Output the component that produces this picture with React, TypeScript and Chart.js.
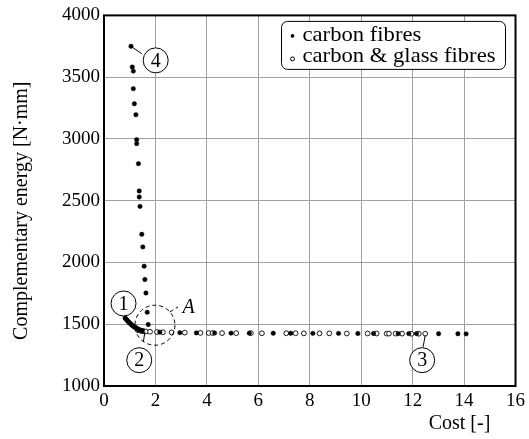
import React, { useEffect, useRef } from 'react';
import { Chart, registerables } from 'chart.js';
Chart.register(...registerables);

// ---------- data ----------
const carbonX = [
  1.05, 1.10, 1.14, 1.14, 1.18, 1.24, 1.27, 1.27, 1.34, 1.37, 1.37, 1.40, 1.47, 1.51, 1.56, 1.59, 1.63, 1.68, 1.72,
  0.82, 0.85, 0.88, 0.91, 0.95, 0.98, 1.01, 1.05, 1.08, 1.12, 1.16, 1.19, 1.23, 1.27, 1.31, 1.36, 1.42, 1.49,
  2.17, 2.95, 3.59, 4.30, 4.94, 5.65, 6.58, 7.26, 8.12, 9.12, 9.87, 10.48, 11.44, 11.85, 12.15, 13.01, 13.76, 14.08,
];
const carbonY = [
  3750, 3582, 3549, 3407, 3285, 3196, 2994, 2962, 2800, 2579, 2530, 2454, 2228, 2126, 1970, 1862, 1753, 1597, 1498,
  1550, 1543, 1536, 1528, 1521, 1514, 1507, 1500, 1494, 1488, 1482, 1477, 1472, 1467, 1462, 1457, 1452, 1447,
  1436, 1432, 1430, 1429, 1428, 1428, 1427, 1427, 1426, 1426, 1425, 1425, 1424, 1424, 1424, 1423, 1423, 1422,
];
const glassX = [
  1.32, 1.40, 1.48, 1.56, 1.63, 1.79, 2.06, 2.29, 2.63, 3.14, 3.75, 4.07, 4.22, 4.59, 5.14, 5.71, 6.14, 7.09, 7.45,
  7.77, 8.38, 8.76, 9.44, 10.25, 10.60, 10.99, 11.08, 11.34, 11.59, 11.95, 12.24, 12.49,
];
const glassY = [
  1452, 1448, 1445, 1443, 1441, 1439, 1437, 1435, 1434, 1432, 1430, 1429, 1429, 1428, 1428, 1428, 1427, 1427, 1427,
  1426, 1426, 1426, 1425, 1425, 1425, 1424, 1424, 1424, 1424, 1423, 1423, 1423,
];
const xTickValues = [0, 2, 4, 6, 8, 10, 12, 14, 16];
const yTickValues = [1000, 1500, 2000, 2500, 3000, 3500, 4000];
const seriesNames = ['carbon fibres', 'carbon & glass fibres'];
const xTitle = 'Cost [-]';
const yTitle = 'Complementary energy [N·mm]';

// annotation anchors (data coordinates)
const numberMarks = [
  { text: '1', cx: 0.76, cy: 1668, from: [0.80, 1568], to: [0.83, 1550] },
  { text: '2', cx: 1.37, cy: 1209, from: [1.53, 1357], to: [1.59, 1438] },
  { text: '3', cx: 12.37, cy: 1209, from: [12.41, 1317], to: [12.49, 1411] },
  { text: '4', cx: 2.01, cy: 3636, from: [1.47, 3690], to: [1.05, 3750] },
];
const regionMark = { text: 'A', cx: 1.98, cy: 1492, from: [2.56, 1600], to: [2.88, 1640], lx: 3.29, ly: 1634 };

const SERIF = '"Liberation Serif", "DejaVu Serif", serif';

const decor = {
  id: 'decor',
  afterDatasetsDraw(chart: any) {
    const { ctx, chartArea: a, scales } = chart;
    const xs = scales.x, ys = scales.y;
    const px = (v: number) => xs.getPixelForValue(v);
    const py = (v: number) => ys.getPixelForValue(v);
    ctx.save();
    // frame
    ctx.strokeStyle = '#000';
    ctx.lineWidth = 2;
    ctx.strokeRect(a.left, a.top, a.right - a.left, a.bottom - a.top);

    // numbered circles
    ctx.lineWidth = 1;
    ctx.font = `20px ${SERIF}`;
    ctx.textAlign = 'center';
    ctx.textBaseline = 'middle';
    numberMarks.forEach((m) => {
      ctx.beginPath();
      ctx.moveTo(px(m.from[0]), py(m.from[1]));
      ctx.lineTo(px(m.to[0]), py(m.to[1]));
      ctx.stroke();
      ctx.beginPath();
      ctx.fillStyle = '#fff';
      ctx.arc(px(m.cx), py(m.cy), 12.5, 0, Math.PI * 2);
      ctx.fill();
      ctx.stroke();
      ctx.fillStyle = '#000';
      ctx.fillText(m.text, px(m.cx), py(m.cy) + 1);
    });

    // dashed region
    ctx.setLineDash([4, 3]);
    ctx.beginPath();
    ctx.arc(px(regionMark.cx), py(regionMark.cy), 20, 0, Math.PI * 2);
    ctx.stroke();
    ctx.beginPath();
    ctx.moveTo(px(regionMark.from[0]), py(regionMark.from[1]));
    ctx.lineTo(px(regionMark.to[0]), py(regionMark.to[1]));
    ctx.stroke();
    ctx.setLineDash([]);
    ctx.font = `italic 20px ${SERIF}`;
    ctx.fillText(regionMark.text, px(regionMark.lx), py(regionMark.ly));

    // legend
    const bw = 224, bh = 48;
    const bx = a.right - 234, by = a.top + 6;
    ctx.beginPath();
    ctx.roundRect(bx, by, bw, bh, 6);
    ctx.fillStyle = '#fff';
    ctx.fill();
    ctx.strokeStyle = '#000';
    ctx.lineWidth = 1;
    ctx.stroke();
    ctx.font = `21px ${SERIF}`;
    ctx.textAlign = 'left';
    ctx.textBaseline = 'alphabetic';
    ctx.fillStyle = '#000';
    ctx.beginPath();
    ctx.arc(bx + 11, by + 14.5, 1.8, 0, Math.PI * 2);
    ctx.fill();
    const tx = bx + 21;
    const maxW = bw - 31;
    const w1 = ctx.measureText(seriesNames[1]).width;
    const sx = w1 > 0 ? Math.min(1.15, maxW / w1) : 1;
    ctx.save();
    ctx.translate(tx, 0);
    ctx.scale(sx, 1);
    ctx.fillText(seriesNames[0], 0, by + 20);
    ctx.fillText(seriesNames[1], 0, by + 41);
    ctx.restore();
    ctx.beginPath();
    ctx.arc(bx + 11, by + 37.5, 2, 0, Math.PI * 2);
    ctx.stroke();

    // axis titles
    ctx.font = `20px ${SERIF}`;
    ctx.textAlign = 'center';
    ctx.textBaseline = 'middle';
    ctx.fillText(xTitle, a.right - 56, a.bottom + 38);
    ctx.translate(22, (a.top + a.bottom) / 2 + 10);
    ctx.rotate(-Math.PI / 2);
    ctx.fillText(yTitle, 0, 0);
    ctx.restore();
  },
};

export default function App() {
  const ref = useRef<HTMLCanvasElement | null>(null);
  useEffect(() => {
    document.body.style.margin = '0';
    const chart = new Chart(ref.current as HTMLCanvasElement, {
      type: 'scatter',
      data: {
        datasets: [
          {
            label: seriesNames[0],
            data: carbonX.map((x, i) => ({ x, y: carbonY[i] })),
            pointStyle: 'circle',
            pointRadius: 2.2,
            pointBackgroundColor: '#000',
            pointBorderColor: '#000',
            pointBorderWidth: 0.5,
            order: 1,
          },
          {
            label: seriesNames[1],
            data: glassX.map((x, i) => ({ x, y: glassY[i] })),
            pointStyle: 'circle',
            pointRadius: 2.4,
            pointBackgroundColor: '#fff',
            pointBorderColor: '#000',
            pointBorderWidth: 0.9,
            order: 2,
          },
        ],
      },
      options: {
        animation: false,
        responsive: false,
        devicePixelRatio: 1,
        layout: { padding: { left: 0, right: 13, top: 15, bottom: 0 } },
        plugins: { legend: { display: false }, tooltip: { enabled: false } },
        scales: {
          x: {
            type: 'linear',
            min: 0,
            max: 16,
            afterFit: (s: any) => { s.height = 53; },
            afterBuildTicks: (s: any) => { s.ticks = xTickValues.map((v) => ({ value: v })); },
            ticks: { font: { family: SERIF, size: 19 }, color: '#000', padding: 4, callback: (v: any) => String(v), maxRotation: 0 },
            grid: { color: '#a0a0a0', lineWidth: 1, drawTicks: false },
            border: { display: false },
          },
          y: {
            type: 'linear',
            min: 1000,
            max: 4000,
            afterFit: (s: any) => { s.width = 104; },
            afterBuildTicks: (s: any) => { s.ticks = yTickValues.map((v) => ({ value: v })); },
            ticks: { font: { family: SERIF, size: 19 }, color: '#000', padding: 4, callback: (v: any) => String(v) },
            grid: { color: '#a0a0a0', lineWidth: 1, drawTicks: false },
            border: { display: false },
          },
        },
      },
      plugins: [decor],
    });
    return () => chart.destroy();
  }, []);
  return (
    <div style={{ position: 'absolute', left: 0, top: 0, width: 529, height: 439, background: '#fff' }}>
      <canvas ref={ref} width={529} height={439} style={{ display: 'block' }} />
    </div>
  );
}
